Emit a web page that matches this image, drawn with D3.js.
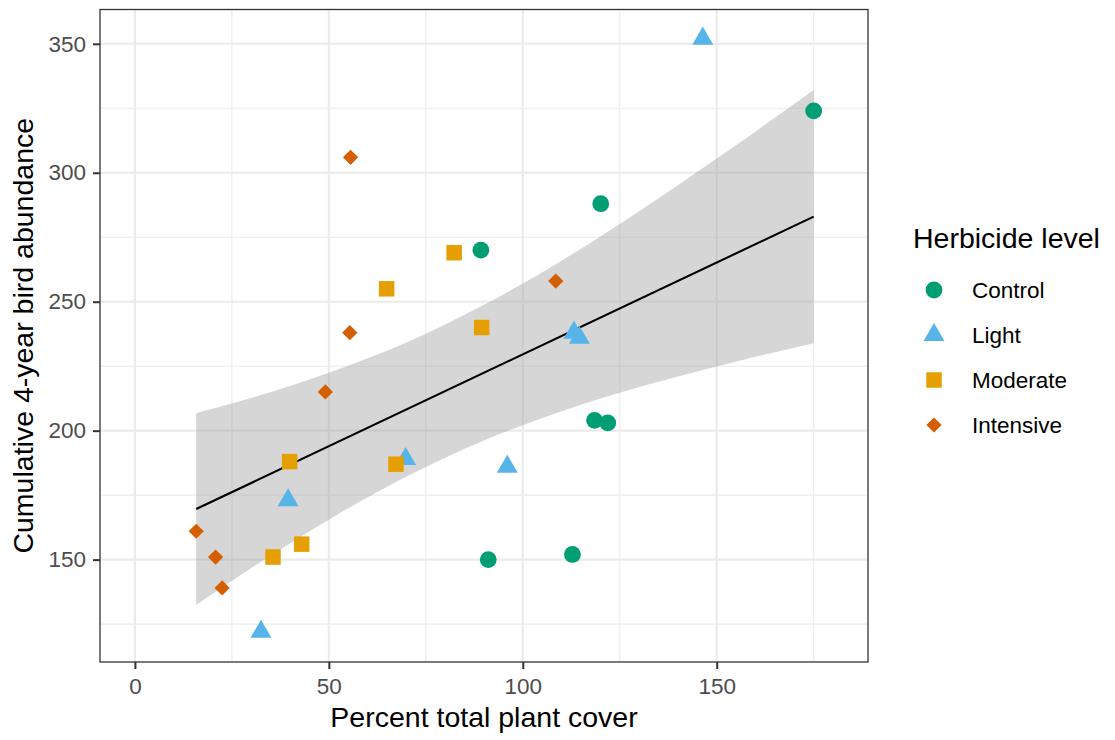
<!DOCTYPE html>
<html>
<head>
<meta charset="utf-8">
<script src="https://cdn.jsdelivr.net/npm/d3@7"></script>
<style>
body { margin: 0; background: #fff; }
text { font-family: "Liberation Sans", Arial, sans-serif; }
</style>
</head>
<body>
<script>
var width = 1115,
    height = 740,
    panelLeft = 100,
    panelRight = 868,
    panelTop = 9.5,
    panelBottom = 662,
    titleSize = 28.5,
    labelSize = 22.5
;

// data, one array pair per herbicide level
var levels = ["Control", "Light", "Moderate", "Intensive"];
var levelColors = ["#009E73", "#56B4E9", "#E69F00", "#D55E00"];
var levelShapes = ["circle", "triangle", "square", "diamond"];

var controlCover = [89.2, 175.0, 120.1, 118.5, 121.9, 91.1, 112.8];
var controlBirds = [270, 324, 288, 204, 203, 150, 152];
var lightCover = [146.4, 113.2, 114.6, 96.0, 69.8, 39.5, 32.5];
var lightBirds = [352, 238, 236, 186, 189, 173, 122];
var moderateCover = [82.3, 64.9, 89.4, 39.9, 67.3, 35.6, 43.0];
var moderateBirds = [269, 255, 240, 188, 187, 151, 156];
var intensiveCover = [55.6, 55.4, 108.5, 49.1, 15.8, 20.8, 22.5];
var intensiveBirds = [306, 238, 258, 215, 161, 151, 139];

// fitted line and its 95% band
var fitCover = [15.8, 175.0];
var fitBirds = [169.6, 283.0];
var bandCover = [15.8, 30, 50, 70, 90, 110, 130, 150, 175];
var bandUpper = [206.8, 212.7, 222.5, 234.2, 248.8, 265.9, 285.1, 305.5, 332.1];
var bandLower = [132.4, 146.7, 165.5, 182.2, 196.2, 207.5, 216.9, 224.9, 233.9];

var xTicks = [0, 50, 100, 150];
var xMinor = [25, 75, 125, 175];
var yTicks = [150, 200, 250, 300, 350];
var yMinor = [125, 175, 225, 275, 325];
var xLimits = [0, 180];
var yLimits = [121.8, 351.8];

var covers = [controlCover, lightCover, moderateCover, intensiveCover];
var birds = [controlBirds, lightBirds, moderateBirds, intensiveBirds];

var points = [];
for (g = 0; g < levels.length; g++) {
    for (i = 0; i < covers[g].length; i++) {
        points.push({x: covers[g][i], y: birds[g][i], g: g});
    }
}

var svg = d3.select("body").append("svg")
    .attr("width", width)
    .attr("height", height)
;

var xPad = 0.05 * (xLimits[1] - xLimits[0]),
    yPad = 0.05 * (yLimits[1] - yLimits[0]);

var x = d3.scaleLinear()
    .domain([xLimits[0] - xPad, xLimits[1] + xPad])
    .range([panelLeft, panelRight])
;
var y = d3.scaleLinear()
    .domain([yLimits[0] - yPad, yLimits[1] + yPad])
    .range([panelBottom, panelTop])
;

// grid
var grid = svg.append("g");
xMinor.forEach(function (v) {
    grid.append("line").attr("x1", x(v)).attr("x2", x(v))
        .attr("y1", panelTop).attr("y2", panelBottom)
        .attr("stroke", "#ebebeb").attr("stroke-width", 1.1);
});
yMinor.forEach(function (v) {
    grid.append("line").attr("y1", y(v)).attr("y2", y(v))
        .attr("x1", panelLeft).attr("x2", panelRight)
        .attr("stroke", "#ebebeb").attr("stroke-width", 1.1);
});
xTicks.forEach(function (v) {
    grid.append("line").attr("x1", x(v)).attr("x2", x(v))
        .attr("y1", panelTop).attr("y2", panelBottom)
        .attr("stroke", "#ebebeb").attr("stroke-width", 2.1);
});
yTicks.forEach(function (v) {
    grid.append("line").attr("y1", y(v)).attr("y2", y(v))
        .attr("x1", panelLeft).attr("x2", panelRight)
        .attr("stroke", "#ebebeb").attr("stroke-width", 2.1);
});

// band and fitted line
var band = bandCover.map((c, i) => ({x: c, lo: bandLower[i], hi: bandUpper[i]}));
svg.append("path")
    .datum(band)
    .attr("d", d3.area().curve(d3.curveMonotoneX)
        .x(d => x(d.x)).y0(d => y(d.lo)).y1(d => y(d.hi)))
    .attr("fill", "#999999")
    .attr("fill-opacity", 0.4)
;
svg.append("path")
    .datum(fitCover.map((c, i) => ({x: c, y: fitBirds[i]})))
    .attr("d", d3.line().x(d => x(d.x)).y(d => y(d.y)))
    .attr("fill", "none")
    .attr("stroke", "#000")
    .attr("stroke-width", 2.1)
;

// point shapes
function shapePath(shape) {
    if (shape == "circle") return d3.symbol(d3.symbolCircle, 222)();
    if (shape == "triangle") return d3.symbol(d3.symbolTriangle, 190)();
    if (shape == "square") return d3.symbol(d3.symbolSquare, 240)();
    return d3.symbol(d3.symbolSquare, 116)();
}
function shapeRotate(shape) {
    return shape == "diamond" ? " rotate(45)" : "";
}

svg.append("g")
    .selectAll("path")
    .data(points)
    .join("path")
    .attr("d", d => shapePath(levelShapes[d.g]))
    .attr("transform", d => `translate(${x(d.x)},${y(d.y)})` + shapeRotate(levelShapes[d.g]))
    .attr("fill", d => levelColors[d.g])
;

// panel border
svg.append("rect")
    .attr("x", panelLeft)
    .attr("y", panelTop)
    .attr("width", panelRight - panelLeft)
    .attr("height", panelBottom - panelTop)
    .attr("fill", "none")
    .attr("stroke", "#333333")
    .attr("stroke-width", 1.3)
;

// axes
var xAxis = d3.axisBottom(x)
    .tickValues(xTicks)
    .tickSize(7)
    .tickPadding(9)
;
var yAxis = d3.axisLeft(y)
    .tickValues(yTicks)
    .tickSize(7)
    .tickPadding(7)
;
var gx = svg.append("g")
    .attr("transform", `translate(0,${panelBottom})`)
    .call(xAxis)
;
var gy = svg.append("g")
    .attr("transform", `translate(${panelLeft},0)`)
    .call(yAxis)
;
[gx, gy].forEach(function (g) {
    g.select(".domain").remove();
    g.selectAll(".tick line").attr("stroke", "#333333").attr("stroke-width", 2);
    g.selectAll(".tick text")
        .attr("fill", "#4d4d4d")
        .style("font-size", labelSize + "px")
        .style("font-family", "'Liberation Sans', Arial, sans-serif");
});

svg.append("text")
    .attr("x", (panelLeft + panelRight) / 2)
    .attr("y", 727)
    .attr("text-anchor", "middle")
    .style("font-size", titleSize + "px")
    .text("Percent total plant cover")
;
svg.append("text")
    .attr("transform", `translate(33,${(panelTop + panelBottom) / 2}) rotate(-90)`)
    .attr("text-anchor", "middle")
    .style("font-size", titleSize + "px")
    .text("Cumulative 4-year bird abundance")
;

// legend
var legend = svg.append("g");
legend.append("text")
    .attr("x", 913)
    .attr("y", 248)
    .style("font-size", titleSize + "px")
    .text("Herbicide level")
;
for (g = 0; g < levels.length; g++) {
    var rowY = 290 + g * 45;
    legend.append("path")
        .attr("d", shapePath(levelShapes[g]))
        .attr("transform", `translate(934,${rowY})` + shapeRotate(levelShapes[g]))
        .attr("fill", levelColors[g])
    ;
    legend.append("text")
        .attr("x", 972)
        .attr("y", rowY)
        .attr("dy", "0.35em")
        .style("font-size", labelSize + "px")
        .text(levels[g])
    ;
}
</script>
</body>
</html>
